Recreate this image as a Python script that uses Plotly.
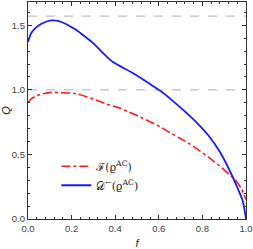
import plotly.graph_objects as go

# data
f_vals = [0.0, 0.015, 0.035, 0.06, 0.105, 0.145, 0.22, 0.24, 0.30, 0.353, 0.39, 0.47, 0.51,
          0.56, 0.613, 0.66, 0.728, 0.775, 0.827, 0.88, 0.946, 0.966, 0.985, 1.0]
discord = [1.37, 1.44, 1.48, 1.51, 1.537, 1.53, 1.465, 1.44, 1.36, 1.27, 1.215, 1.14, 1.10,
           1.045, 0.985, 0.92, 0.82, 0.745, 0.648, 0.52, 0.30, 0.22, 0.14, 0.0]
f_red = [0.0, 0.015, 0.04, 0.07, 0.105, 0.15, 0.22, 0.33, 0.36, 0.42, 0.46, 0.514, 0.61, 0.65,
         0.697, 0.743, 0.835, 0.927, 0.957, 0.98, 1.0]
fidelity = [0.90, 0.93, 0.955, 0.97, 0.98, 0.978, 0.97, 0.91, 0.89, 0.86, 0.83, 0.79, 0.71, 0.67,
            0.625, 0.58, 0.47, 0.34, 0.29, 0.23, 0.15]
ref_levels = [1.0, 1.5708]
x_ticks = [0.0, 0.2, 0.4, 0.6, 0.8, 1.0]
y_ticks = [0.0, 0.5, 1.0, 1.5]

fig = go.Figure()
fig.add_trace(go.Scatter(x=f_red, y=fidelity, mode="lines",
                         line=dict(color="#ff1a1a", width=1.6, dash="dashdot", shape="spline", smoothing=0.8),
                         name="ℱ(ϱ<sup>AC</sup>)"))
fig.add_trace(go.Scatter(x=f_vals, y=discord, mode="lines",
                         line=dict(color="#1a1aff", width=1.8, shape="spline", smoothing=0.8),
                         name="𝒟<sup>←</sup>(ϱ<sup>AC</sup>)"))
for lv in ref_levels:
    fig.add_shape(type="line", xref="paper", x0=0, x1=1, yref="y", y0=lv, y1=lv,
                  line=dict(color="#b0b0b0", width=1, dash="dash"), layer="below")

axis_common = dict(showline=True, linecolor="#333", linewidth=1.2, mirror="allticks",
                   ticks="inside", ticklen=4, tickwidth=1, tickcolor="#333",
                   showgrid=False, zeroline=False,
                   tickfont=dict(family="Liberation Sans", size=9.5, color="#444"))
fig.update_xaxes(range=[0, 1], tickvals=x_ticks, ticktext=[f"{v:.1f}" for v in x_ticks],
                 minor=dict(dtick=0.04, ticks="inside", ticklen=2, tickcolor="#333"),
                 title=dict(text="<i>f</i>", font=dict(family="Liberation Sans", size=11, color="#222"), standoff=8),
                 **axis_common)
fig.update_yaxes(range=[0, 1.68], tickvals=y_ticks, ticktext=[f"{v:.1f}" for v in y_ticks],
                 minor=dict(dtick=0.1, ticks="inside", ticklen=2, tickcolor="#333"),
                 title=dict(text="<i>Q</i>", font=dict(family="Liberation Sans", size=11, color="#222"), standoff=2),
                 **axis_common)
fig.update_layout(width=253, height=249, margin=dict(l=28, r=7, t=2, b=30, autoexpand=False),
                  plot_bgcolor="white", paper_bgcolor="white",
                  legend=dict(x=0.13, y=0.31, xanchor="left", yanchor="top", bgcolor="rgba(0,0,0,0)",
                              font=dict(family="DejaVu Serif", size=11, color="#222"),
                              tracegroupgap=6, itemwidth=30),
                  showlegend=True)
fig.write_html("out.html", config={"displayModeBar": False},
               post_script="document.body.style.margin='0';document.body.style.overflow='hidden';")
